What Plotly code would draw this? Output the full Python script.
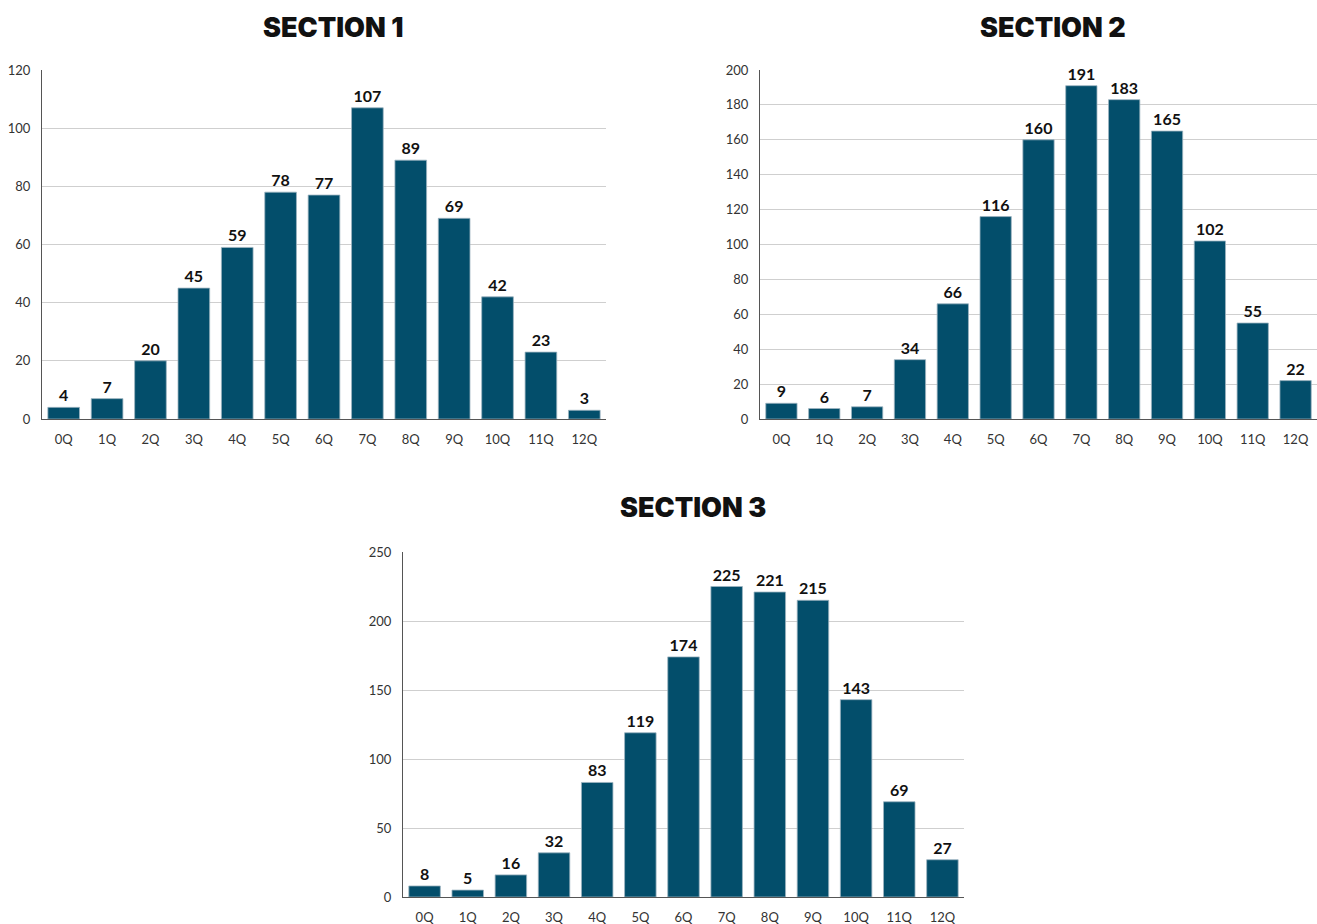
import plotly.graph_objects as go

categories = ["0Q", "1Q", "2Q", "3Q", "4Q", "5Q", "6Q", "7Q", "8Q", "9Q", "10Q", "11Q", "12Q"]
section1 = [4, 7, 20, 45, 59, 78, 77, 107, 89, 69, 42, 23, 3]
section2 = [9, 6, 7, 34, 66, 116, 160, 191, 183, 165, 102, 55, 22]
section3 = [8, 5, 16, 32, 83, 119, 174, 225, 221, 215, 143, 69, 27]
titles = ["SECTION 1", "SECTION 2", "SECTION 3"]

W, H = 1317, 924
BAR = "#034e6b"

fig = go.Figure()
for i, vals in enumerate([section1, section2, section3]):
    sfx = "" if i == 0 else str(i + 1)
    fig.add_trace(go.Bar(
        x=categories, y=vals, text=[str(v) for v in vals],
        textposition="outside", cliponaxis=False,
        textfont=dict(family="Lato", size=16, color="#111111", weight="bold"),
        marker=dict(color=BAR, line=dict(color="#9db4c0", width=0.8)),
        xaxis="x" + sfx, yaxis="y" + sfx, showlegend=False, hoverinfo="x+y",
    ))

def px(x):
    return x / W

def py(y):
    return 1 - y / H

axis_common = dict(showline=True, linecolor="#555555", linewidth=1, automargin=False,
                   tickfont=dict(family="Lato", size=13, color="#333333"))

layout = dict(
    width=W, height=H, margin=dict(l=0, r=0, t=0, b=0, pad=0),
    plot_bgcolor="white", paper_bgcolor="white", bargap=0.27,
)

domains = [
    ([px(42), px(606)], [py(419), py(70)], [0, 120], 20),
    ([px(760), 1.0], [py(419), py(70)], [0, 200], 20),
    ([px(403), px(964)], [py(897), py(552)], [0, 250], 50),
]
for i, (xd, yd, yr, dt) in enumerate(domains):
    sfx = "" if i == 0 else str(i + 1)
    layout["xaxis" + sfx] = dict(domain=xd, anchor="y" + sfx, showgrid=False,
                                  ticks="", ticklabelstandoff=8, **axis_common)
    layout["yaxis" + sfx] = dict(domain=yd, anchor="x" + sfx, range=yr, dtick=dt,
                                  showgrid=True, gridcolor="#cfcfcf", gridwidth=1,
                                  zeroline=False, ticks="", ticklabelstandoff=8,
                                  **axis_common)

title_pos = [(333, 27), (1053, 27), (693, 507)]
annotations = []
for t, (x, y) in zip(titles, title_pos):
    annotations.append(dict(text=t, x=px(x), y=py(y), xref="paper", yref="paper",
                            showarrow=False, xanchor="center", yanchor="middle",
                            font=dict(family="Inter", size=27, color="#111111", weight=900)))
layout["annotations"] = annotations

fig.update_layout(**layout)
fig.write_html("out.html")
